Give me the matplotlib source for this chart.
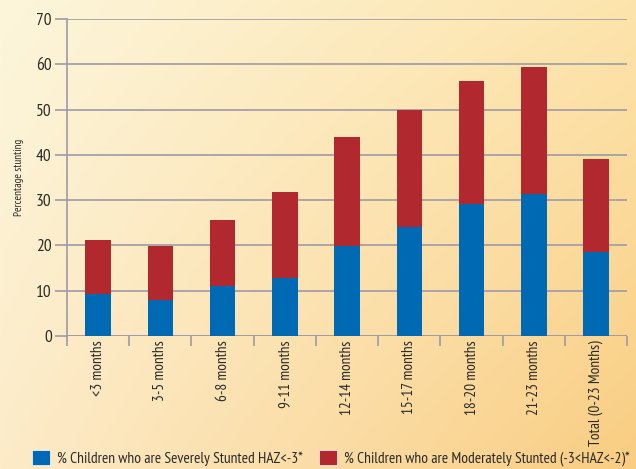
import matplotlib
matplotlib.use('Agg')
import matplotlib.pyplot as plt
import numpy as np
from matplotlib.patches import Patch

plt.rcParams['font.family'] = ['PT Sans Narrow', 'DejaVu Sans']

# data
categories = ['<3 months', '3-5 months', '6-8 months', '9-11 months', '12-14 months',
              '15-17 months', '18-20 months', '21-23 months', 'Total (0-23 Months)']
severe = [9.3, 7.9, 11.0, 12.9, 19.9, 24.1, 29.1, 31.3, 18.5]
total = [21.2, 19.9, 25.6, 31.7, 44.0, 50.0, 56.2, 59.3, 39.1]
moderate = [t - s for t, s in zip(total, severe)]

blue = '#0069b4'
red = '#b1282e'
grid_col = '#9e9aa6'
txt_col = '#2a2a2a'

fig = plt.figure(figsize=(6.36, 4.69), dpi=100)

# cream-to-orange background
bg = fig.add_axes([0, 0, 1, 1], zorder=-10)
tl = np.array([253, 246, 220]) / 255
tr = np.array([253, 228, 172]) / 255
bl = np.array([253, 235, 200]) / 255
br = np.array([249, 205, 130]) / 255
u = np.linspace(0, 1, 200)[None, :, None]
v = np.linspace(0, 1, 200)[:, None, None]
grad = (1 - u) * (1 - v) * tl + u * (1 - v) * tr + (1 - u) * v * bl + u * v * br
bg.imshow(grad, aspect='auto', extent=[0, 1, 0, 1], origin='upper')
bg.axis('off')

ax = fig.add_axes([0.1053, 0.2836, 0.8807, 0.6759])
ax.patch.set_alpha(0)
x = np.arange(len(categories))
w = 0.41
ax.bar(x, severe, w, color=blue, zorder=3)
ax.bar(x, moderate, w, bottom=severe, color=red, zorder=3)

ax.set_xlim(-0.5, len(categories) - 0.5)
ax.set_ylim(0, 70)
ax.set_yticks(range(0, 71, 10))
ax.yaxis.grid(True, color=grid_col, linewidth=1.2, zorder=0)
for s in ['top', 'right', 'bottom']:
    ax.spines[s].set_visible(False)
ax.spines['left'].set_color(grid_col)
ax.spines['left'].set_linewidth(1.2)
ax.axhline(0, color=grid_col, linewidth=1.2, zorder=1)
ax.tick_params(axis='y', length=9, width=1.2, color=grid_col, labelsize=12.5,
               labelcolor=txt_col, pad=2)

ax.set_xticks(x)
ax.set_xticklabels(categories, rotation=90, fontsize=11, color=txt_col, va='top')
ax.tick_params(axis='x', length=0, pad=3)
ax.set_xticks(np.arange(-0.5, len(categories)), minor=True)
ax.tick_params(axis='x', which='minor', length=7, width=1.2, color=grid_col)

ax.set_ylabel('Percentage stunting', fontsize=8, color=txt_col, labelpad=9)

handles = [Patch(facecolor=blue, edgecolor='white', linewidth=0.5),
           Patch(facecolor=red, edgecolor='white', linewidth=0.5)]
labels = ['% Children who are Severely Stunted HAZ<-3*',
          '% Children who are Moderately Stunted (-3<HAZ<-2)*']
fig.legend(handles, labels, loc='lower left', bbox_to_anchor=(0.028, -0.024), ncol=2,
           frameon=False, fontsize=11.2, handlelength=1.15, handleheight=1.15,
           handletextpad=0.5, columnspacing=1.0, labelcolor=txt_col)

fig.savefig('out.png', dpi=100)
